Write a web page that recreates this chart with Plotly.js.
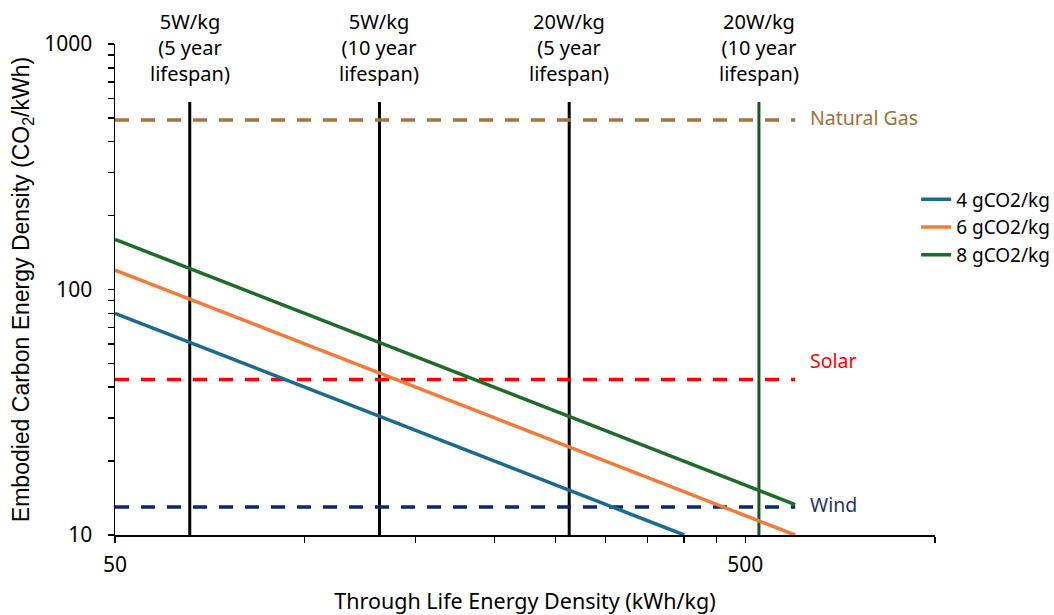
<!DOCTYPE html>
<html>
<head>
<meta charset="utf-8">
<script src="https://cdn.plot.ly/plotly-3.0.1.min.js"></script>
<style>html,body{margin:0;padding:0;background:#fff;}#chart{width:1054px;height:615px;}</style>
</head>
<body>
<div id="chart"></div>
<script>
// ---- data ----
const seriesNames = ["4 gCO2/kg", "6 gCO2/kg", "8 gCO2/kg"];
const seriesX4 = [50, 100, 200, 400];
const seriesY4 = [80, 40, 20, 10];
const seriesX6 = [50, 100, 200, 400, 600];
const seriesY6 = [120, 60, 30, 15, 10];
const seriesX8 = [50, 100, 200, 400, 600];
const seriesY8 = [160, 80, 40, 20, 13.3];

const refNames = ["Natural Gas", "Solar", "Wind"];
const refValues = [490, 43, 13];
const refXSpan = [50, 600];

const powerLabels = ["5W/kg<br>(5 year<br>lifespan)", "5W/kg<br>(10 year<br>lifespan)", "20W/kg<br>(5 year<br>lifespan)", "20W/kg<br>(10 year<br>lifespan)"];
const powerX = [65.7, 131.4, 262.8, 525.6];
const powerYSpan = [10, 580];

const xTickVals = [50, 100, 150, 200, 250, 300, 350, 400, 450, 500, 1000];
const xTickText = ["50", " ", " ", " ", " ", " ", " ", " ", " ", "500", " "];
const yTickVals = [10, 20, 30, 40, 50, 60, 70, 80, 90, 100, 200, 300, 400, 500, 600, 700, 800, 900, 1000];
const yTickText = ["10", " ", " ", " ", " ", " ", " ", " ", " ", "100", " ", " ", " ", " ", " ", " ", " ", " ", "1000"];

// ---- styles ----
const seriesColors = ["#1c6a8c", "#f07b3b", "#1f6b2a"];
const refColors = ["#a8733d", "#ff0000", "#0b2a6b"];
const refTextColors = ["#a0703a", "#ff0000", "#1f3468"];
const refLabelShift = [3, 19, 3];
const powerColors = ["#000000", "#000000", "#000000", "#1c5424"];
const FONT = "Noto Sans, Open Sans, sans-serif";

const traces = [];
// vertical power lines
powerX.forEach((px, i) => {
  traces.push({
    x: [px, px], y: powerYSpan, mode: "lines", type: "scatter",
    line: {color: powerColors[i], width: 3}, showlegend: false, hoverinfo: "skip"
  });
});
// horizontal reference lines
refValues.forEach((v, i) => {
  traces.push({
    x: refXSpan, y: [v, v], mode: "lines", type: "scatter",
    line: {color: refColors[i], width: 3.5, dash: "14px,12px"}, showlegend: false, hoverinfo: "skip"
  });
});
// series
const sx = [seriesX4, seriesX6, seriesX8];
const sy = [seriesY4, seriesY6, seriesY8];
seriesNames.forEach((n, i) => {
  traces.push({
    x: sx[i], y: sy[i], name: n, mode: "lines", type: "scatter",
    line: {color: seriesColors[i], width: 3.5}
  });
});

const annotations = [];
powerX.forEach((px, i) => {
  annotations.push({
    xref: "x", yref: "paper", x: Math.log10(px), y: 1, yanchor: "middle", yshift: -3,
    text: powerLabels[i], showarrow: false, align: "center",
    font: {family: FONT, size: 20, color: "#000"}
  });
});
refNames.forEach((n, i) => {
  annotations.push({
    xref: "x", yref: "y", x: Math.log10(refXSpan[1]), y: Math.log10(refValues[i]),
    xanchor: "left", yanchor: "middle", xshift: 13, yshift: refLabelShift[i],
    text: n, showarrow: false, font: {family: FONT, size: 19.5, color: refTextColors[i]}
  });
});

const layout = {
  width: 1054, height: 615,
  margin: {l: 115, r: 119, t: 44, b: 80, autoexpand: false},
  paper_bgcolor: "#fff", plot_bgcolor: "#fff",
  font: {family: FONT, color: "#000"},
  showlegend: true,
  legend: {x: 0.977, xanchor: "left", y: 0.722, yanchor: "top",
    font: {family: FONT, size: 19, color: "#000"}, bgcolor: "rgba(0,0,0,0)", tracegroupgap: 0},
  xaxis: {
    type: "log", range: [Math.log10(50), Math.log10(1000)],
    tickmode: "array", tickvals: xTickVals, ticktext: xTickText,
    ticks: "outside", ticklen: 6, tickwidth: 1.5, tickcolor: "#000",
    showline: true, linecolor: "#000", linewidth: 1.5,
    showgrid: false, zeroline: false,
    tickfont: {family: FONT, size: 21, color: "#000"}, ticklabelstandoff: 4,
    title: {text: "Through Life Energy Density (kWh/kg)", font: {family: FONT, size: 21.5, color: "#000"}, standoff: 18}
  },
  yaxis: {
    type: "log", range: [1, 3],
    tickmode: "array", tickvals: yTickVals, ticktext: yTickText,
    ticks: "outside", ticklen: 6, tickwidth: 1.5, tickcolor: "#000",
    showline: true, linecolor: "#000", linewidth: 1.5,
    showgrid: false, zeroline: false,
    tickfont: {family: FONT, size: 21, color: "#000"}, ticklabelstandoff: 11,
    title: {text: "Embodied Carbon Energy Density (CO<sub>2</sub>/kWh)", font: {family: "Liberation Sans, Arial, sans-serif", size: 23, color: "#000"}, standoff: 8}
  },
  annotations: annotations
};

Plotly.newPlot("chart", traces, layout, {staticPlot: true, displayModeBar: false});
</script>
</body>
</html>
